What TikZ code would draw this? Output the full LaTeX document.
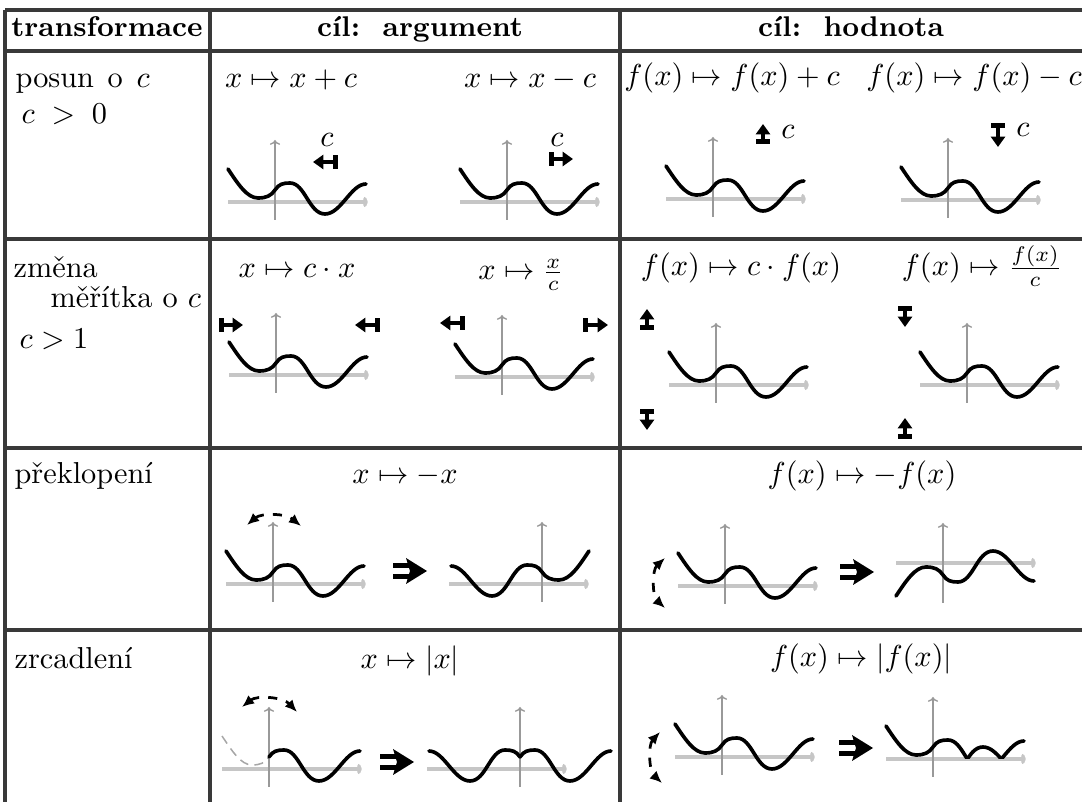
\documentclass[tikz,border=0pt]{standalone}
\usepackage{amsmath}
\usepackage{amssymb}
\usepackage{fontspec}
\usepackage{tikz}
\usetikzlibrary{arrows.meta}

% krivka f: leva a prava cast (pocatek v (0,0))
\newcommand{\fleva}{(-47,33) .. controls (-37,18) and (-28,4) .. (-17,4) .. controls (-9,4) and (-4,6) .. (0,12)}
\newcommand{\fprava}{.. controls (4,18) and (8,19) .. (15,19) .. controls (30,19) and (34,-12) .. (50,-12) .. controls (66,-12) and (76,18) .. (91,18)}
\newcommand{\osy}[2][-18]{\draw[osax] (#2-47,0) -- (#2+93,0); \draw[osay] (0,#1) -- (0,#1+80);}
\newcommand{\implik}{\fill (-17,3) rectangle (0,8); \fill (-17,-8) rectangle (0,-3);
  \fill (-4,13) -- (17,0) -- (-4,-13) -- (0,0) -- cycle;}

\begin{document}
\begin{tikzpicture}[x=0.33pt,y=0.33pt,
  mrizka/.style={line width=1pt,gray!45!black},
  osax/.style={line width=1.1pt,gray!45,-{To[length=1.6pt]}},
  osay/.style={line width=0.45pt,gray!80,-{To[length=1.6pt]}},
  krivka/.style={line width=1.2pt,line cap=round},
  stin/.style={densely dashed,line width=0.5pt,gray!70},
  otoc/.style={dashed,line width=0.9pt,{Latex[length=4pt,width=3.5pt]}-{Latex[length=4pt,width=3.5pt]}},
  sipka/.style={line width=1.6pt,{Bar[width=4.6pt]}-{Triangle[length=3.4pt,width=4.6pt]}},
  popis/.style={anchor=base,inner sep=0pt},
  hlava/.style={anchor=base,inner sep=0pt,font=\fontsize{9.4}{11}\bfseries}]
\useasboundingbox (0,0) rectangle (1082,-802);
% tabulka
\foreach \y in {10,51,239,448,630} \draw[mrizka] (5,-\y) -- (1082,-\y);
\foreach \x in {5,210,620} \draw[mrizka] (\x,-10) -- (\x,-802);
\node[hlava] (transf) at (107,-37) {transformace};
\node[hlava] (argument) at (420,-37) {cíl:\ \ argument};
\node[hlava] (hodnota) at (851,-37) {cíl:\ \ hodnota};
% levy sloupec
\node[popis,anchor=base west] (posun) at (15,-88) {posun\hspace{4.5pt}o\hspace{4.5pt}$c$};
\node[popis,anchor=base west] (podm1) at (21,-124) {$c\;>\;0$};
\node[popis,anchor=base west] (zmena) at (13,-278) {změna};
\node[popis,anchor=base west] (meritko) at (50,-308) {měřítka o $c$};
\node[popis,anchor=base west] (podm2) at (19,-349) {$c>1$};
\node[popis,anchor=base west] (prekl) at (14,-484) {překlopení};
\node[popis,anchor=base west] (zrcad) at (14,-669) {zrcadlení};
% predpisy
\node[popis] (arg1) at (291,-88) {$x\mapsto x+c$};
\node[popis] (arg2) at (530,-88) {$x\mapsto x-c$};
\node[popis] (hod1) at (732,-86) {$f(x)\mapsto f(x)+c$};
\node[popis] (hod2) at (974,-86) {$f(x)\mapsto f(x)-c$};
\node[popis] (arg3) at (297,-278) {$x\mapsto c\cdot x$};
\node[popis] (arg4) at (521,-280) {$x\mapsto \frac{x}{c}$};
\node[popis] (hod3) at (741,-276) {$f(x)\mapsto c\cdot f(x)$};
\node[popis] (hod4) at (982,-276) {$f(x)\mapsto \frac{f(x)}{c}$};
\node[popis] (arg5) at (405,-484) {$x\mapsto -x$};
\node[popis] (hod5) at (862,-484) {$f(x)\mapsto -f(x)$};
\node[popis] (arg6) at (410,-669) {$x\mapsto |x|$};
\node[popis] (hod6) at (861,-667) {$f(x)\mapsto |f(x)|$};
% grafy f
\foreach \ox/\oy in {275/202,507/202,713/199,948/200,276/375,502/377,716/385,967/385,273/584,725/586,722/757}
  {\begin{scope}[shift={(\ox,-\oy)}] \osy{0} \draw[krivka] \fleva \fprava; \end{scope}}
\begin{scope}[shift={(542,-584)}] \osy{-46} \draw[krivka,xscale=-1] \fleva \fprava; \end{scope}
\begin{scope}[shift={(943,-563)}] \osy[-40]{0} \draw[krivka,yscale=-1] \fleva \fprava; \end{scope}
\begin{scope}[shift={(269,-769)}]
  \osy{0}
  \draw[stin] \fleva;
  \draw[krivka] (0,12) \fprava;
  \draw[otoc] (-27,62) .. controls (-12,74) and (14,72) .. (28,57);
\end{scope}
\begin{scope}[shift={(520,-769)}]
  \osy{-46}
  \draw[krivka] (0,12) \fprava;
  \draw[krivka,xscale=-1] (0,12) \fprava;
\end{scope}
\begin{scope}[shift={(933,-759)}]
  \osy{0}
  \clip (-50,0) rectangle (95,40);
  \draw[krivka] \fleva \fprava;
  \draw[krivka,yscale=-1] \fleva \fprava;
\end{scope}
% posuny
\node[inner sep=0pt] (c1) at (327,-140) {$c$};
\node[inner sep=0pt] (c2) at (557,-140) {$c$};
\node[inner sep=0pt] (c3) at (788,-132) {$c$};
\node[inner sep=0pt] (c4) at (1023,-130) {$c$};
\draw[sipka] (338,-162) -- (313,-162);
\draw[sipka] (549,-159) -- (573,-159);
\draw[sipka] (763,-144) -- (763,-124);
\draw[sipka] (998,-123) -- (998,-147);
\draw[sipka] (219,-325) -- (243,-325);
\draw[sipka] (380,-325) -- (355,-325);
\draw[sipka] (465,-323) -- (440,-323);
\draw[sipka] (583,-325) -- (608,-325);
\draw[sipka] (647,-330) -- (647,-309);
\draw[sipka] (647,-409) -- (647,-430);
\draw[sipka] (905,-306) -- (905,-327);
\draw[sipka] (905,-439) -- (905,-418);
% otoceni
\draw[otoc] (247,-525) .. controls (261,-513) and (285,-513) .. (301,-526);
\draw[otoc] (665,-558) .. controls (652,-570) and (652,-596) .. (665,-608);
\draw[otoc] (660,-732) .. controls (648,-745) and (649,-771) .. (662,-783);
\foreach \ox/\oy in {410/571,857/572,397/762,856/748}
  {\begin{scope}[shift={(\ox,-\oy)}] \implik \end{scope}}
\end{tikzpicture}
\end{document}
